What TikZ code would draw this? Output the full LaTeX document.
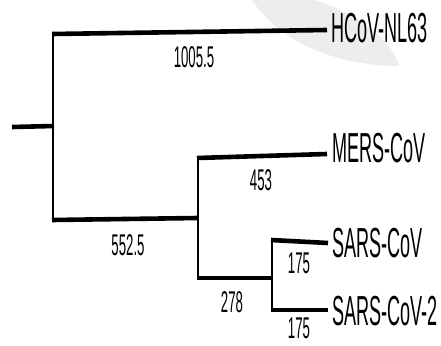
\documentclass[tikz,border=0pt]{standalone}
\usepackage{fontspec}
\setmainfont[FakeStretch=0.43]{Liberation Sans}
\newfontfamily\numfont[FakeStretch=0.44]{Liberation Sans}
\begin{document}
\begin{tikzpicture}[x=1pt,y=-1pt,
  branch/.style={line width=4.6pt},
  stem/.style={line width=2.2pt},
  taxon/.style={anchor=base west,inner sep=0pt,font=\fontsize{42}{44}\selectfont},
  blen/.style={anchor=base,inner sep=0pt,font=\numfont\fontsize{30}{32}\selectfont}]
\useasboundingbox (0,0) rectangle (441,345);
% light grey swoosh in background
\fill[black!7] (252,0) .. controls (285,50) and (350,66) .. (399,66)
  .. controls (392,40) and (360,15) .. (315,0) -- cycle;
% coordinates
\coordinate (root) at (12,127);
\coordinate (n1) at (53,126);
\coordinate (n1t) at (53,35);
\coordinate (n1b) at (53,220);
\coordinate (n2t) at (198,158);
\coordinate (n2b) at (198,278);
\coordinate (n2) at (198,218);
\coordinate (n3) at (272,278);
\coordinate (n3t) at (272,240);
\coordinate (n3b) at (272,310);
\coordinate (e1) at (327,30);
\coordinate (e2) at (327,154);
\coordinate (e3) at (328,243);
\coordinate (e4) at (328,310);
% taxa
\node[taxon] (hcov) at (331,43) {HCoV-NL63};
\node[taxon] (mers) at (332,162) {MERS-CoV};
\node[taxon] (sars) at (332,257) {SARS-CoV};
\node[taxon] (sars2) at (332,325) {SARS-CoV-2};
% branches
\draw[branch] (root) -- ([xshift=1pt]n1);
\draw[stem] ([yshift=-1.5pt]n1t) -- ([yshift=1.5pt]n1b);
\draw[branch] ([xshift=-1pt,yshift=1pt]n1t) -- (e1);
\draw[branch] ([xshift=-1pt]n1b) -- (n2);
\draw[stem] ([yshift=-1.5pt]n2t) -- ([yshift=1.5pt]n2b);
\draw[branch] ([xshift=-1pt]n2t) -- (e2);
\draw[branch] ([xshift=-1pt]n2b) -- (n3);
\draw[stem] (n3t) -- ([yshift=1.5pt]n3b);
\draw[branch] ([xshift=-1pt]n3t) -- (e3);
\draw[branch] ([xshift=-1pt]n3b) -- (e4);
% branch lengths
\node[blen] (l1) at (194,67) {1005.5};
\node[blen] (l2) at (261,190) {453};
\node[blen] (l3) at (128,255) {552.5};
\node[blen] (l4) at (232,312) {278};
\node[blen] (l5) at (299,273) {175};
\node[blen] (l6) at (299,338) {175};
\end{tikzpicture}
\end{document}
